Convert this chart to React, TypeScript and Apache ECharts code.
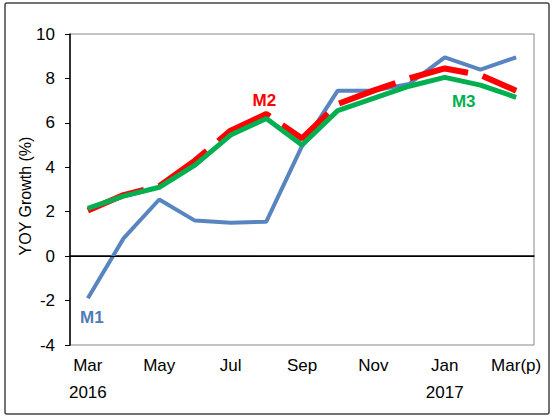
import React, { useEffect, useRef } from "react";
import * as echarts from "echarts";

const categories = ["Mar", "Apr", "May", "Jun", "Jul", "Aug", "Sep", "Oct", "Nov", "Dec", "Jan", "Feb", "Mar(p)"];
const yearLabels: Record<number, string> = { 0: "2016", 10: "2017" };
const m1 = [-1.9, 0.8, 2.55, 1.6, 1.5, 1.55, 4.95, 7.45, 7.45, 7.75, 8.95, 8.4, 8.95];
const m2 = [2.05, 2.75, 3.15, 4.3, 5.65, 6.4, 5.3, 6.85, 7.45, 8.0, 8.45, 8.15, 7.45];
const m3 = [2.15, 2.7, 3.1, 4.1, 5.45, 6.2, 5.0, 6.55, 7.1, 7.65, 8.05, 7.7, 7.15];

const FONT = "'Liberation Sans', Arial, sans-serif";

function tagPoint(cat: string, val: number, text: string, color: string, offset: number[]) {
  return {
    symbol: "circle",
    symbolSize: 1,
    itemStyle: { color: "transparent" },
    data: [{ coord: [cat, val], value: text }],
    label: {
      show: true,
      position: "inside",
      formatter: text,
      color,
      fontWeight: "bold",
      fontSize: 17,
      fontFamily: FONT,
      offset,
    },
  };
}

export default function App() {
  const ref = useRef<HTMLDivElement>(null);
  useEffect(() => {
    document.body.style.margin = "0";
    const chart = echarts.init(ref.current!, null, { renderer: "svg" });
    chart.setOption({
      animation: false,
      backgroundColor: "#fff",
      textStyle: { fontFamily: FONT },
      grid: {
        left: 70,
        top: 34,
        right: 18,
        bottom: 72,
        show: true,
        borderColor: "#888",
        borderWidth: 1,
        backgroundColor: "transparent",
      },
      graphic: [
        {
          type: "rect",
          shape: { x: 5, y: 3, width: 544, height: 411, r: 2 },
          style: { fill: "none", stroke: "#444", lineWidth: 1.5 },
          silent: true,
        },
      ],
      xAxis: {
        type: "category",
        data: categories,
        boundaryGap: true,
        axisLine: { lineStyle: { color: "#000", width: 1.5 } },
        axisTick: { alignWithLabel: true, interval: 0, length: 4, lineStyle: { color: "#000" } },
        axisLabel: {
          interval: 1,
          color: "#000",
          fontSize: 17,
          fontFamily: FONT,
          lineHeight: 27,
          margin: 7,
          formatter: (v: string, i: number) => (yearLabels[i] ? v + "\n" + yearLabels[i] : v),
        },
        splitLine: { show: false },
      },
      yAxis: {
        type: "value",
        min: -4,
        max: 10,
        interval: 2,
        name: "YOY Growth (%)",
        nameLocation: "middle",
        nameGap: 37,
        nameMoveOverlap: false,
        nameTextStyle: { color: "#000", fontSize: 16, fontFamily: FONT, padding: [0, 13, 0, 0] },
        axisLine: { show: true, lineStyle: { color: "#000", width: 1.5 } },
        axisTick: { show: true, length: 5, lineStyle: { color: "#000" } },
        axisLabel: { color: "#000", fontSize: 17, fontFamily: FONT, margin: 15 },
        splitLine: { show: false },
      },
      series: [
        {
          name: "M1",
          type: "line",
          data: m1,
          symbol: "none",
          lineStyle: { color: "#5885C0", width: 4 },
          z: 2,
          markLine: {
            silent: true,
            symbol: "none",
            label: { show: false },
            lineStyle: { color: "#000", width: 1, type: "solid" },
            data: [{ yAxis: 0 }],
          },
          markPoint: tagPoint("Mar", -2.75, "M1", "#4F7BB8", [4, 0]),
        },
        {
          name: "M2",
          type: "line",
          data: m2,
          symbol: "none",
          lineStyle: { color: "#FF0000", width: 6, type: [60, 15], dashOffset: 0, cap: "butt" },
          z: 3,
          markPoint: tagPoint("Aug", 7.0, "M2", "#FF0000", [-2, 0]),
        },
        {
          name: "M3",
          type: "line",
          data: m3,
          symbol: "none",
          lineStyle: { color: "#00B050", width: 5 },
          z: 4,
          markPoint: tagPoint("Jan", 6.95, "M3", "#00B050", [19, 0]),
        },
      ],
    });
    return () => chart.dispose();
  }, []);
  return <div ref={ref} style={{ width: 552, height: 417 }} />;
}
